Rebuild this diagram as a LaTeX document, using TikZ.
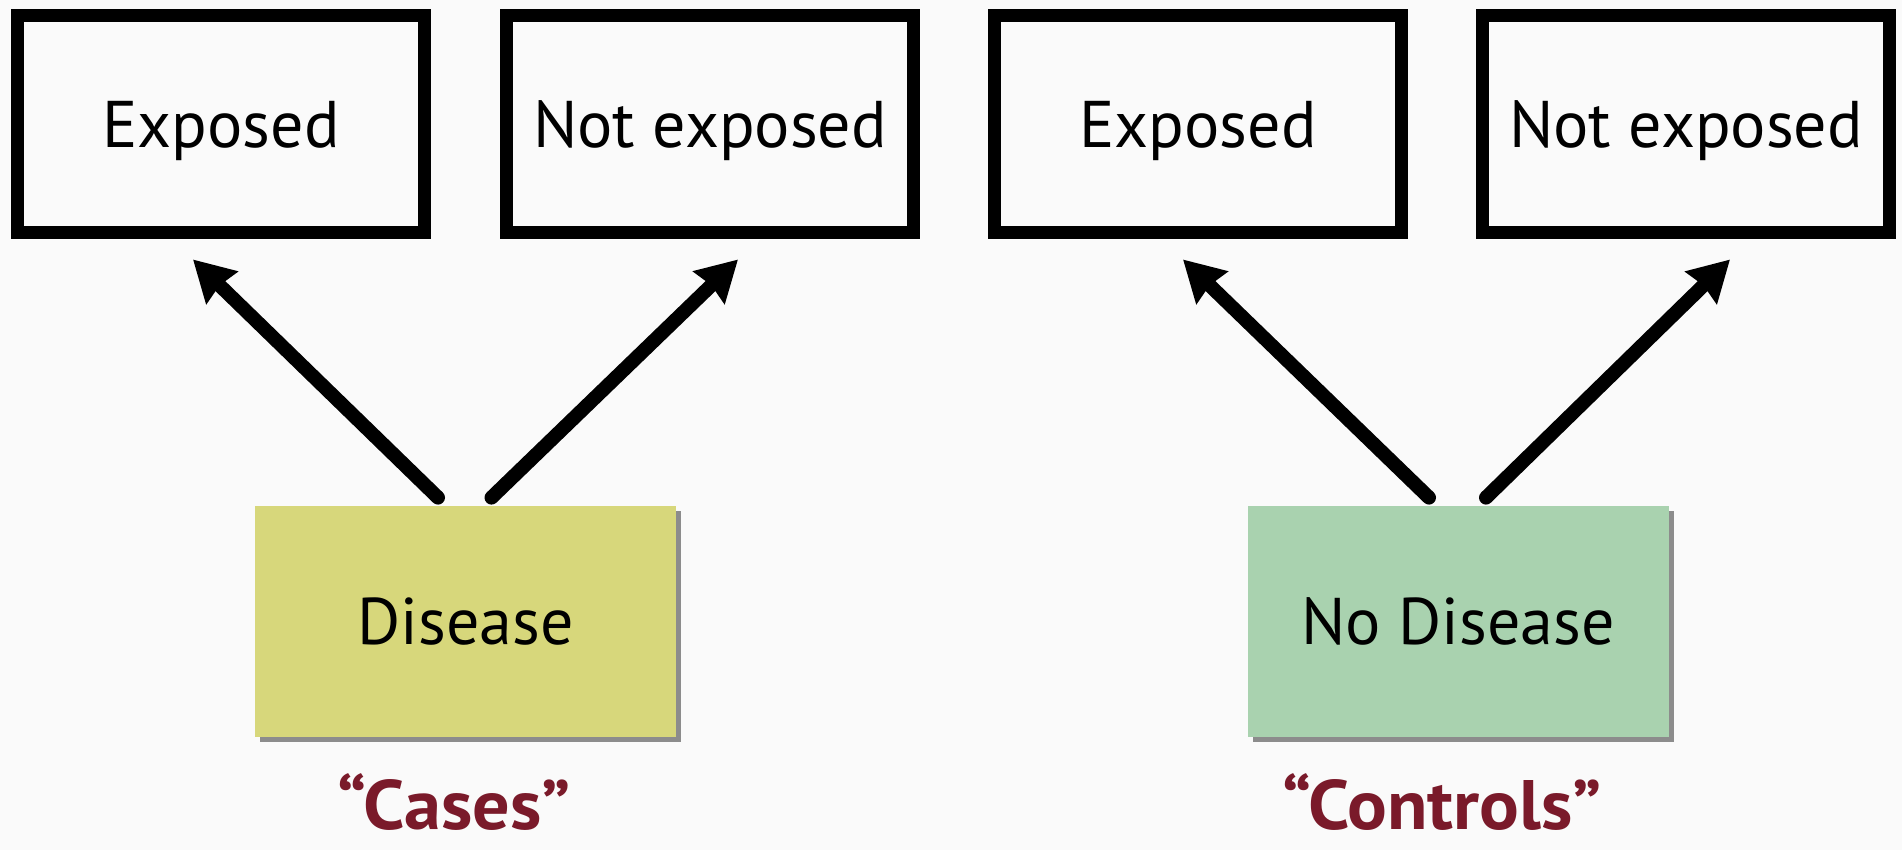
\documentclass[tikz,border=0pt]{standalone}
\usepackage{fontspec}
\setmainfont{PT Sans}
\usetikzlibrary{arrows.meta,calc,shadows}
\definecolor{bgcol}{HTML}{FAFAFA}
\definecolor{casefill}{HTML}{D7D77B}
\definecolor{ctrlfill}{HTML}{A9D2AF}
\definecolor{labred}{HTML}{7A1A2A}
\tikzset{
  expbox/.style={draw=black, line width=6.5pt, fill=bgcol, inner sep=0pt,
    minimum width=203.5pt, minimum height=108.5pt,
    font=\fontsize{33pt}{40pt}\selectfont, text height=23.5pt, text depth=0pt},
  groupbox/.style={inner sep=0pt, minimum width=210.5pt, minimum height=115.5pt,
    font=\fontsize{33pt}{40pt}\selectfont, text height=23pt, text depth=0pt,
    drop shadow={shadow xshift=2.5pt, shadow yshift=-2.5pt, fill=black!45, opacity=1}},
  grouplabel/.style={anchor=base, inner sep=0pt, text depth=0pt, text=labred,
    font=\fontsize{35pt}{42pt}\selectfont\bfseries},
  arr/.style={line width=7pt, line cap=round, -{Stealth[length=20pt, width=22pt, inset=1.5pt]}}
}
\begin{document}
\begin{tikzpicture}[x=0.5pt, y=-0.5pt]
\fill[bgcol] (0,0) rectangle (1902,850);
\useasboundingbox (0,0) rectangle (1902,850);

\node[expbox] (e1) at (221,124) {Exposed};
\node[expbox] (n1) at (710,124) {Not exposed};
\node[expbox] (e2) at (1198,124) {Exposed};
\node[expbox] (n2) at (1686,124) {Not exposed};

\node[groupbox, fill=casefill] (dis) at (465.5,621.5) {Disease};
\node[groupbox, fill=ctrlfill] (nodis) at (1458,621.5) {No Disease};

\node[grouplabel] (cases) at (454,829) {\scalebox{1.06}[1]{“Cases”}};
\node[grouplabel] (controls) at (1442,829) {\scalebox{1.06}[1]{“Controls”}};

\draw[arr] ($(dis.north)+(-27.5,-8)$) -- ($(e1.south)+(-28,20.5)$);
\draw[arr] ($(dis.north)+(26,-8)$) -- ($(n1.south)+(28,20.5)$);
\draw[arr] ($(nodis.north)+(-29,-8)$) -- ($(e2.south)+(-15,20.5)$);
\draw[arr] ($(nodis.north)+(28,-8)$) -- ($(n2.south)+(44,20.5)$);
\end{tikzpicture}
\end{document}
